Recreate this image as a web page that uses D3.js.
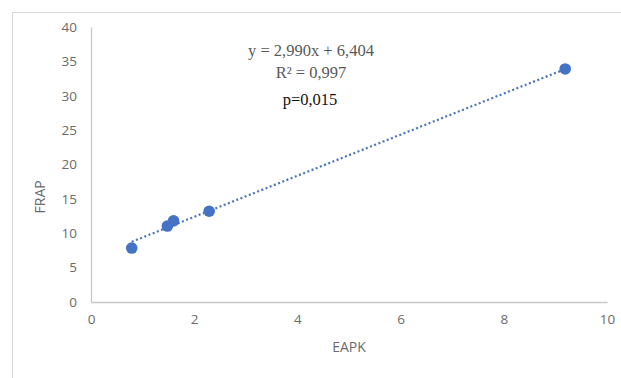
<!DOCTYPE html>
<html>
<head>
<meta charset="utf-8">
<script src="https://cdn.jsdelivr.net/npm/d3@7"></script>
<style>
  body { margin: 0; background: #fff; }
  svg { display: block; }
</style>
</head>
<body>
<div id="chart"></div>
<script>
// data
var eapk = [0.79, 1.48, 1.60, 2.29, 9.19];
var frap = [7.85, 11.05, 11.8, 13.2, 33.9];
var xTicks = [0, 2, 4, 6, 8, 10];
var yTicks = [0, 5, 10, 15, 20, 25, 30, 35, 40];
var slope = 2.990, intercept = 6.404;
var eqLines = ["y = 2,990x + 6,404", "R\u00b2 = 0,997"];
var pText = "p=0,015";

var W = 621, H = 378;
var margin = {top: 27, bottom: 76, left: 91, right: 14};

var svg = d3.select("#chart").append("svg")
            .attr("width", W)
            .attr("height", H);

// outer frame (only left/top edge visible in the shot)
svg.append("rect")
   .attr("x", 12.5).attr("y", 12.5)
   .attr("width", 700).attr("height", 500)
   .style("fill", "none")
   .style("stroke", "#d9d9d9")
   .style("stroke-width", 1);

var x = d3.scaleLinear().domain([0, 10]).range([margin.left, W - margin.right]);
var y = d3.scaleLinear().domain([0, 40]).range([H - margin.bottom, margin.top]);

var xAxis = d3.axisBottom(x).tickValues(xTicks).tickSize(0).tickPadding(12);
var yAxis = d3.axisLeft(y).tickValues(yTicks).tickSize(0).tickPadding(14);

var gx = svg.append("g")
            .attr("transform", "translate(0," + y(0) + ")")
            .call(xAxis);
var gy = svg.append("g")
            .attr("transform", "translate(" + x(0) + ",0)")
            .call(yAxis);

[gx, gy].forEach(function(g) {
    g.select(".domain").style("stroke", "#c8c8c8").style("stroke-width", 1.3);
    g.selectAll("text")
     .style("font-family", "'Open Sans', 'Liberation Sans', sans-serif")
     .style("font-size", "13.5px")
     .style("fill", "#6b6b6b");
});

// trendline, dotted
var x0 = d3.min(eapk), x1 = d3.max(eapk);
svg.append("line")
   .attr("x1", x(x0)).attr("y1", y(slope * x0 + intercept))
   .attr("x2", x(x1)).attr("y2", y(slope * x1 + intercept))
   .style("stroke", "#4a74b8")
   .style("stroke-width", 2.2)
   .style("stroke-dasharray", "2,2.5");

svg.append("g").selectAll("circle")
   .data(eapk.map(function(d, i) { return [d, frap[i]]; }))
   .enter().append("circle")
   .attr("cx", function(d) { return x(d[0]); })
   .attr("cy", function(d) { return y(d[1]); })
   .attr("r", 5.8)
   .style("fill", "#4472c4");

// equation block
svg.append("g").selectAll("text")
   .data(eqLines)
   .enter().append("text")
   .attr("x", 311)
   .attr("y", function(d, i) { return 56 + i * 22; })
   .attr("text-anchor", "middle")
   .style("font-family", "'Liberation Serif', 'DejaVu Serif', serif")
   .style("font-size", "16.5px")
   .style("fill", "#595959")
   .text(function(d) { return d; });

svg.append("text")
   .attr("x", 310)
   .attr("y", 105)
   .attr("text-anchor", "middle")
   .style("font-family", "'Liberation Serif', 'DejaVu Serif', serif")
   .style("font-size", "16.5px")
   .style("fill", "#111")
   .text(pText);

// axis titles
svg.append("text")
   .attr("transform", "translate(45," + y(15.3) + ") rotate(-90)")
   .attr("text-anchor", "middle")
   .style("font-family", "'Open Sans', 'Liberation Sans', sans-serif")
   .style("font-size", "14px")
   .style("fill", "#6b6b6b")
   .text("FRAP");

svg.append("text")
   .attr("x", 349)
   .attr("y", 352)
   .attr("text-anchor", "middle")
   .style("font-family", "'Open Sans', 'Liberation Sans', sans-serif")
   .style("font-size", "14px")
   .style("fill", "#6b6b6b")
   .text("EAPK");
</script>
</body>
</html>
